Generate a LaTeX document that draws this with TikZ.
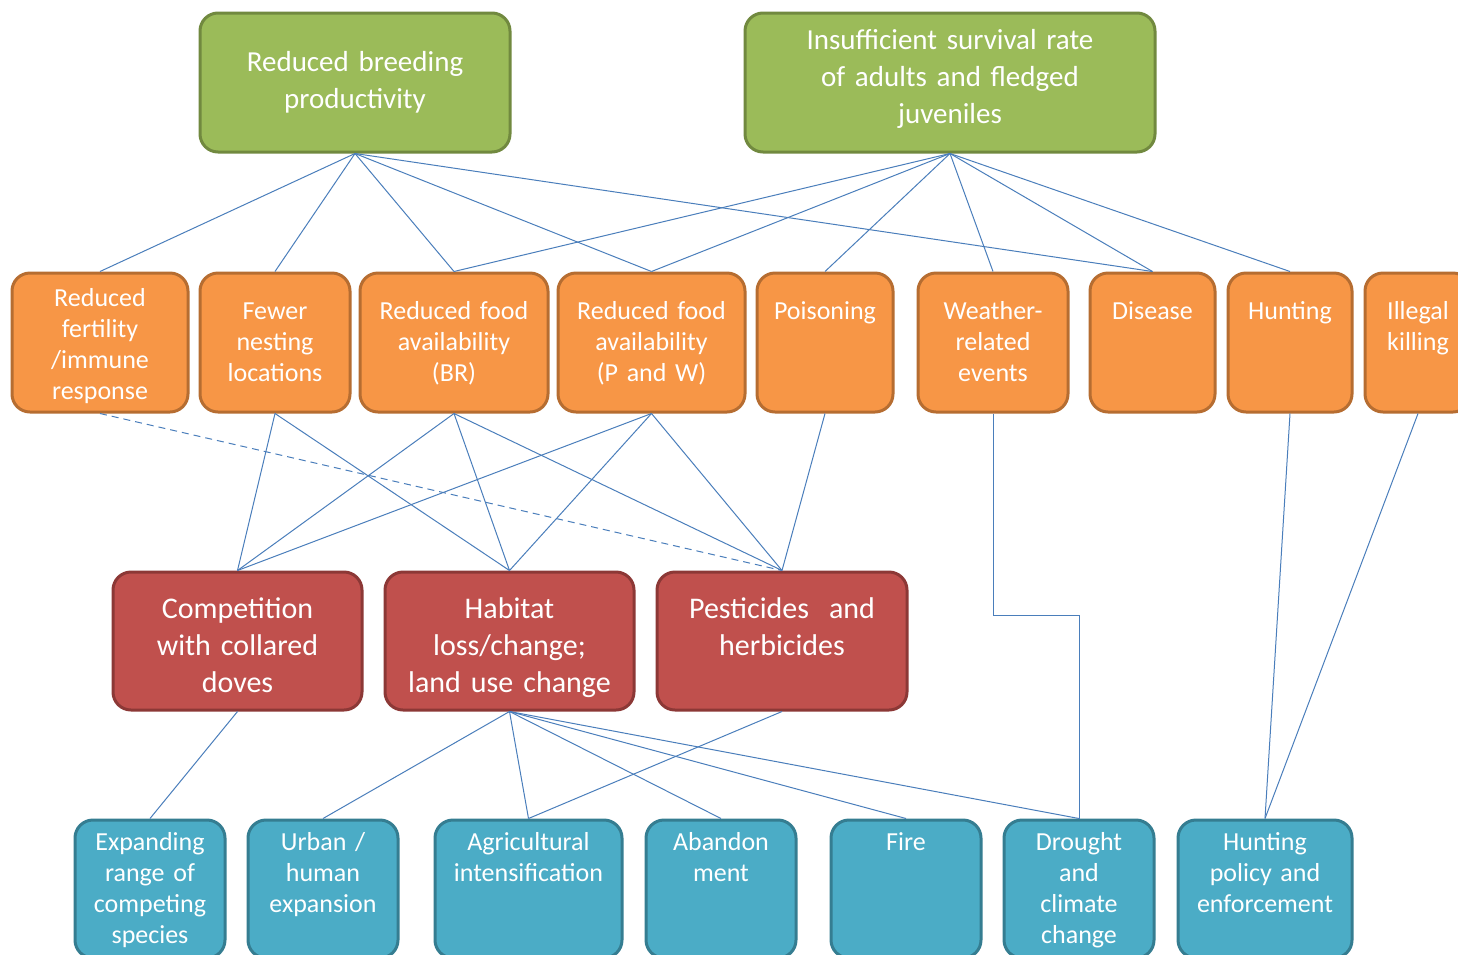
\documentclass[tikz,border=0pt]{standalone}
\usepackage{fontspec}
\setmainfont[WordSpace=0.85]{Carlito}
\definecolor{lnkblue}{HTML}{4A7EBB}
\definecolor{grnfill}{HTML}{9BBB59}
\definecolor{grnline}{HTML}{71893F}
\definecolor{orgfill}{HTML}{F79646}
\definecolor{orgline}{HTML}{B66D31}
\definecolor{redfill}{HTML}{C0504D}
\definecolor{redline}{HTML}{8C3836}
\definecolor{bluefill}{HTML}{4BACC6}
\definecolor{blueline}{HTML}{357D91}
\begin{document}
\begin{tikzpicture}[x=1pt,y=-1pt]
	\tikzset{
		lnk/.style={draw=lnkblue, line width=1pt},
		bx/.style={rounded corners=18pt, line width=3pt, text=white, align=center, inner xsep=4pt, inner ysep=0pt},
		gbox/.style={bx, fill=grnfill, draw=grnline, minimum height=139pt, font=\fontsize{29}{37}\selectfont},
		obox/.style={bx, fill=orgfill, draw=orgline, text height=46pt, text depth=93pt, font=\fontsize{26}{31}\selectfont},
		rbox/.style={bx, fill=redfill, draw=redline, text height=46pt, text depth=92pt, font=\fontsize{30}{37}\selectfont},
		cbox/.style={bx, fill=bluefill, draw=blueline, text height=30pt, text depth=108pt, font=\fontsize{26}{31}\selectfont}
	};

	\fill[white] (0,0) rectangle (1458,954);
	\useasboundingbox (0,0) rectangle (1458,954);

	% effects
	\node[gbox, text width=302pt] (brp) at (355,82.5) {Reduced breeding\\productivity};
	\node[gbox, text width=402pt, text height=36pt, text depth=103pt] (surv) at (950,82.5) {Insufficient survival rate\\of adults and fledged\\juveniles};

	% causes
	\node[obox, text width=168pt, text height=33pt, text depth=106pt] (fert) at (100,342.5) {Reduced\\fertility\\/immune\\response};
	\node[obox, text width=142pt] (nest) at (275,342.5) {Fewer\\nesting\\locations};
	\node[obox, text width=180pt] (fbr) at (454,342.5) {Reduced food\\availability\\(BR)};
	\node[obox, text width=179pt] (fpw) at (651.5,342.5) {Reduced food\\availability\\(P and W)};
	\node[obox, text width=128pt] (pois) at (825,342.5) {Poisoning};
	\node[obox, text width=142pt] (wthr) at (993,342.5) {Weather-\\related\\events};
	\node[obox, text width=117pt] (dis) at (1152.5,342.5) {Disease};
	\node[obox, text width=116pt] (hunt) at (1290,342.5) {Hunting};
	\node[obox, text width=98pt] (ill) at (1418,342.5) {Illegal\\killing};

	% threats
	\node[rbox, text width=241pt] (comp) at (237.5,641) {Competition\\with collared\\doves};
	\node[rbox, text width=241pt] (hab) at (509.5,641) {Habitat\\loss/change;\\land use change};
	\node[rbox, text width=242pt] (pest) at (782,641) {Pesticides\ \ and\\herbicides};

	% drivers
	\node[cbox, text width=142pt] (expd) at (150,889) {Expanding\\range of\\competing\\species};
	\node[cbox, text width=142pt] (urb) at (323,889) {Urban /\\human\\expansion};
	\node[cbox, text width=179pt] (agri) at (528.5,889) {Agricultural\\intensification};
	\node[cbox, text width=142pt] (aban) at (721,889) {Abandon\\ment};
	\node[cbox, text width=142pt] (fire) at (906,889) {Fire};
	\node[cbox, text width=142pt] (drgt) at (1079,889) {Drought\\and\\climate\\change};
	\node[cbox, text width=166pt] (hpol) at (1265,889) {Hunting\\policy and\\enforcement};

	\coordinate (wbend) at (1079,615);

	\draw[lnk] (brp.south) -- (fert.north);
	\draw[lnk] (brp.south) -- (nest.north);
	\draw[lnk] (brp.south) -- (fbr.north);
	\draw[lnk] (brp.south) -- (fpw.north);
	\draw[lnk] (brp.south) -- (dis.north);
	\draw[lnk] (surv.south) -- (fbr.north);
	\draw[lnk] (surv.south) -- (fpw.north);
	\draw[lnk] (surv.south) -- (pois.north);
	\draw[lnk] (surv.south) -- (wthr.north);
	\draw[lnk] (surv.south) -- (dis.north);
	\draw[lnk] (surv.south) -- (hunt.north);

	\draw[lnk, dash pattern=on 7pt off 5pt] (fert.south) -- (pest.north);
	\draw[lnk] (nest.south) -- (comp.north);
	\draw[lnk] (nest.south) -- (hab.north);
	\draw[lnk] (fbr.south) -- (comp.north);
	\draw[lnk] (fbr.south) -- (hab.north);
	\draw[lnk] (fbr.south) -- (pest.north);
	\draw[lnk] (fpw.south) -- (comp.north);
	\draw[lnk] (fpw.south) -- (hab.north);
	\draw[lnk] (fpw.south) -- (pest.north);
	\draw[lnk] (pois.south) -- (pest.north);
	\draw[lnk] (wthr.south) |- (wbend) -- (drgt.north);
	\draw[lnk] (hunt.south) -- (hpol.north);
	\draw[lnk] (ill.south) -- (hpol.north);

	\draw[lnk] (comp.south) -- (expd.north);
	\draw[lnk] (hab.south) -- (urb.north);
	\draw[lnk] (hab.south) -- (agri.north);
	\draw[lnk] (hab.south) -- (aban.north);
	\draw[lnk] (hab.south) -- (fire.north);
	\draw[lnk] (hab.south) -- (drgt.north);
	\draw[lnk] (pest.south) -- (agri.north);

\end{tikzpicture}
\end{document}
